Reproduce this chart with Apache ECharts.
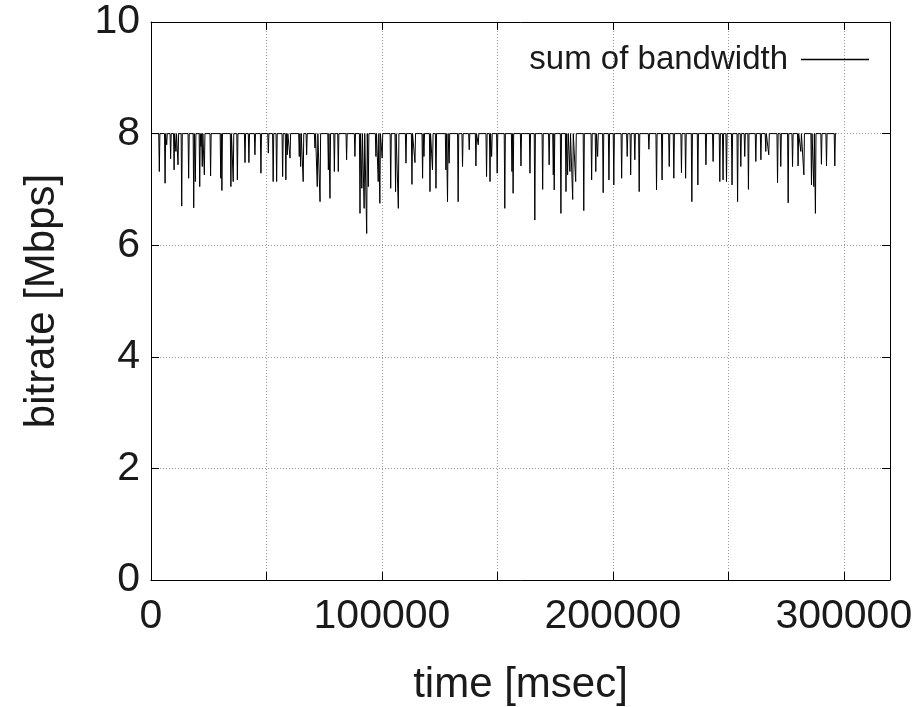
<!DOCTYPE html>
<html>
<head>
<meta charset="utf-8">
<script src="https://cdn.jsdelivr.net/npm/echarts@6/dist/echarts.min.js"></script>
<style>html,body{margin:0;padding:0;background:#fff}#c{width:922px;height:707px}</style>
</head>
<body>
<div id="c"></div>
<script>
const seriesName = 'sum of bandwidth';
const baseline = 8;
const startTime = 800;
const endTime = 296800;
const spikeTimes = [3600,6100,6800,8500,10000,10800,11700,13300,16300,18500,19200,21100,21600,22200,23100,25800,30200,30700,34600,35600,37400,40700,42400,45000,47600,50800,52900,54400,
57000,58400,59000,60200,64200,64800,65900,67400,71000,72000,73200,76800,77500,79400,81100,84700,88300,90500,91300,92300,93400,94100,97400,98400,99100,100100,103800,105900,107100,
110400,113000,114300,117600,118200,120800,121900,123400,127700,128400,129100,133000,134900,137800,140700,141700,145300,146800,147500,149900,153200,156300,156800,
160200,164100,166200,169600,172400,174200,174600,177500,179700,180400,181400,182600,183900,187400,190800,192600,193400,195800,198300,200400,203800,206200,207700,209500,211400,
215600,218900,221300,224400,226400,229700,231500,234200,236800,240300,243400,246300,247700,249200,251600,254000,255400,257100,258700,261900,
264100,266200,267500,271300,272700,275900,277800,280200,281400,282700,286000,287000,287700,290300,292500,296100];
const spikeValues = [7.32,7.11,7.80,7.55,7.35,7.68,7.44,6.70,7.20,6.67,7.14,7.05,7.77,7.41,7.26,7.24,7.20,6.98,7.05,7.14,7.17,7.48,7.48,7.62,7.29,7.65,7.14,7.14,
7.23,7.17,7.62,7.56,7.59,7.41,7.14,7.62,7.74,7.05,6.78,7.35,6.84,7.32,7.32,7.53,7.59,6.57,7.02,6.66,6.21,7.05,7.59,7.14,6.75,7.56,7.02,6.96,6.66,
7.47,7.09,7.48,7.20,7.59,6.96,7.35,7.02,7.35,6.78,7.47,6.78,7.41,7.71,7.42,7.80,7.23,7.14,7.59,7.29,6.66,7.32,6.93,
7.42,7.29,6.45,7.00,7.44,7.26,6.99,6.57,6.96,7.26,7.32,6.82,7.14,6.62,7.17,7.32,7.59,6.94,7.17,7.08,7.20,7.59,7.26,7.53,6.96,
7.72,6.99,7.17,7.41,7.20,7.30,7.20,6.78,7.08,7.44,7.50,7.14,7.17,7.14,7.08,6.78,7.41,7.59,7.00,7.50,
7.53,7.68,7.62,7.12,7.41,6.76,7.41,7.42,7.68,7.26,7.08,7.05,6.57,7.45,7.42,7.42];
const xTickLabels = ['0','100000','200000','300000'];
const yTickLabels = ['0','2','4','6','8','10'];

const spikeHalfWidth = 250;
const data = [[startTime, baseline]];
for (let i = 0; i < spikeTimes.length; i++) {
  data.push([spikeTimes[i] - spikeHalfWidth, baseline]);
  data.push([spikeTimes[i], spikeValues[i]]);
  data.push([spikeTimes[i] + spikeHalfWidth, baseline]);
}
data.push([endTime, baseline]);

const font = '"Liberation Sans", Arial, Helvetica, sans-serif';
const txt = '#1a1a1a';
const gridLine = {show: true, lineStyle: {color: '#999', type: [1, 2], width: 1}};
const tick = {show: true, inside: true, length: 8, lineStyle: {color: '#000', width: 1}};

const chart = echarts.init(document.getElementById('c'), null, {renderer: 'canvas'});
chart.setOption({
  animation: false,
  backgroundColor: '#fff',
  grid: {left: 151, right: 32, top: 22, bottom: 127, containLabel: false, outerBoundsMode: 'none'},
  legend: {
    data: [seriesName],
    right: 48, top: 38,
    align: 'right',
    icon: 'rect',
    itemWidth: 68, itemHeight: 1.5,
    textStyle: {fontFamily: font, fontSize: 33, color: txt, padding: [0, 8, 0, 0]},
    itemStyle: {color: '#000'}
  },
  xAxis: [{
    type: 'value', min: 0, max: 320000, interval: 50000, position: 'bottom',
    name: 'time [msec]', nameLocation: 'middle', nameGap: 84,
    nameTextStyle: {fontFamily: font, fontSize: 42, color: txt},
    axisLine: {show: true, onZero: false, lineStyle: {color: '#000', width: 1}},
    axisTick: tick,
    axisLabel: {inside: false, fontFamily: font, fontSize: 41, color: txt, margin: 16,
      formatter: v => xTickLabels.indexOf(String(v)) >= 0 ? String(v) : ''},
    splitLine: gridLine
  }, {
    type: 'value', min: 0, max: 320000, interval: 50000, position: 'top',
    axisLine: {show: true, onZero: false, lineStyle: {color: '#000', width: 1}},
    axisTick: tick,
    axisLabel: {show: false}, splitLine: {show: false}
  }],
  yAxis: [{
    type: 'value', min: 0, max: 10, interval: 2, position: 'left',
    name: 'bitrate [Mbps]', nameLocation: 'middle', nameGap: 88, nameRotate: 90,
    nameTextStyle: {fontFamily: font, fontSize: 42, color: txt},
    axisLine: {show: true, onZero: false, lineStyle: {color: '#000', width: 1}},
    axisTick: tick,
    axisLabel: {inside: false, fontFamily: font, fontSize: 41, color: txt, margin: 11,
      formatter: v => yTickLabels.indexOf(String(v)) >= 0 ? String(v) : ''},
    splitLine: gridLine
  }, {
    type: 'value', min: 0, max: 10, interval: 2, position: 'right',
    axisLine: {show: true, onZero: false, lineStyle: {color: '#000', width: 1}},
    axisTick: tick,
    axisLabel: {show: false}, splitLine: {show: false}
  }],
  series: [{
    name: seriesName, type: 'line', xAxisIndex: 0, yAxisIndex: 0,
    data: data, showSymbol: false, symbol: 'none',
    lineStyle: {color: '#000', width: 1}, itemStyle: {color: '#000'}
  }]
});
</script>
</body>
</html>
